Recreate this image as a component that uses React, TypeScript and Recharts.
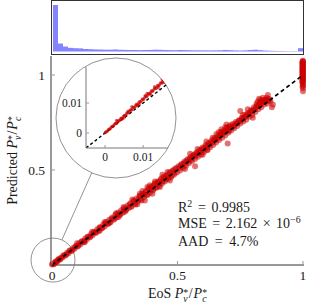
import {
  BarChart,
  Bar,
  ScatterChart,
  Scatter,
  XAxis,
  YAxis,
  ReferenceLine,
  ReferenceDot,
} from "recharts";

// histogram of EoS Pv*/Pc* (50 bins of 0.02)
const histCounts = [
  1400, 240, 150, 110, 100, 95, 75, 70, 62, 60, 55, 55, 62, 52, 48, 45, 45, 42, 45, 48, 55, 52, 45, 42, 40,
  45, 42, 38, 36, 35, 35, 33, 35, 38, 45, 40, 33, 30, 35, 45, 55, 40, 28, 22, 18, 15, 12, 10, 12, 100,
];

// [EoS, predicted]
const mainPoints: [number, number][] = [
  [0, 0.002], [0.006, 0.004], [0.012, 0.014], [0.018, 0.016], [0.024, 0.027], [0.03, 0.028], [0.036, 0.04],
  [0.042, 0.039], [0.048, 0.052], [0.054, 0.05], [0.06, 0.064], [0.066, 0.062], [0.072, 0.077], [0.078, 0.074],
  [0.084, 0.089], [0.09, 0.086], [0.096, 0.1], [0.102, 0.098], [0.108, 0.114], [0.114, 0.109], [0.12, 0.126],
  [0.126, 0.121], [0.132, 0.139], [0.138, 0.133], [0.144, 0.15], [0.15, 0.145], [0.156, 0.163], [0.162, 0.156],
  [0.168, 0.175], [0.174, 0.168], [0.18, 0.188], [0.186, 0.18], [0.192, 0.2], [0.198, 0.192], [0.204, 0.213],
  [0.21, 0.203], [0.216, 0.226], [0.222, 0.214], [0.228, 0.238], [0.234, 0.226], [0.24, 0.25], [0.246, 0.238],
  [0.252, 0.263], [0.258, 0.25], [0.264, 0.276], [0.27, 0.262], [0.276, 0.288], [0.282, 0.275], [0.288, 0.3],
  [0.294, 0.287], [0.3, 0.312],
  [0.003, 0.006], [0.009, 0.007], [0.015, 0.019], [0.021, 0.018], [0.027, 0.031], [0.033, 0.03], [0.045, 0.049],
  [0.057, 0.055], [0.069, 0.074], [0.081, 0.078], [0.093, 0.098], [0.105, 0.101], [0.117, 0.123], [0.129, 0.125],
  [0.141, 0.147], [0.153, 0.149], [0.165, 0.17], [0.177, 0.173], [0.189, 0.196], [0.201, 0.196], [0.213, 0.219],
  [0.225, 0.22], [0.237, 0.244], [0.249, 0.244], [0.261, 0.268], [0.273, 0.269], [0.285, 0.292], [0.297, 0.293],
  [0.1, 0.115], [0.13, 0.12], [0.16, 0.175], [0.19, 0.18], [0.21, 0.226], [0.23, 0.222], [0.255, 0.272],
  [0.265, 0.252], [0.285, 0.305], [0.29, 0.28],
  [0.306, 0.3], [0.312, 0.325], [0.318, 0.31], [0.324, 0.336], [0.33, 0.322], [0.336, 0.35], [0.342, 0.335],
  [0.348, 0.362], [0.354, 0.345], [0.36, 0.375], [0.366, 0.356], [0.372, 0.385], [0.378, 0.368], [0.384, 0.4],
  [0.39, 0.38], [0.396, 0.41], [0.402, 0.392], [0.408, 0.425], [0.414, 0.405], [0.42, 0.436], [0.426, 0.416],
  [0.432, 0.448], [0.438, 0.428], [0.444, 0.46], [0.45, 0.44], [0.456, 0.47], [0.462, 0.452], [0.468, 0.484],
  [0.474, 0.462], [0.48, 0.495], [0.486, 0.475], [0.492, 0.506], [0.498, 0.487],
  [0.309, 0.318], [0.315, 0.305], [0.327, 0.34], [0.333, 0.318], [0.345, 0.345], [0.351, 0.365], [0.357, 0.34],
  [0.363, 0.372], [0.369, 0.37], [0.375, 0.39], [0.381, 0.37], [0.387, 0.405], [0.393, 0.395], [0.399, 0.415],
  [0.405, 0.4], [0.411, 0.43], [0.417, 0.41], [0.423, 0.44], [0.429, 0.43], [0.435, 0.455], [0.441, 0.44],
  [0.447, 0.465], [0.453, 0.45], [0.459, 0.475], [0.465, 0.46], [0.471, 0.49], [0.477, 0.47], [0.483, 0.5],
  [0.489, 0.485], [0.495, 0.51],
  [0.35, 0.375], [0.37, 0.34], [0.38, 0.41], [0.39, 0.42], [0.4, 0.375], [0.41, 0.44], [0.36, 0.39],
  [0.43, 0.41], [0.44, 0.475], [0.46, 0.49], [0.47, 0.445], [0.32, 0.345], [0.34, 0.32],
  [0.504, 0.52], [0.51, 0.498], [0.516, 0.532], [0.522, 0.51], [0.528, 0.545], [0.534, 0.522], [0.54, 0.556],
  [0.546, 0.535], [0.552, 0.568], [0.558, 0.547], [0.564, 0.58], [0.57, 0.558], [0.576, 0.592], [0.582, 0.57],
  [0.588, 0.605], [0.594, 0.582], [0.6, 0.618], [0.606, 0.595], [0.612, 0.63], [0.618, 0.606], [0.624, 0.642],
  [0.63, 0.62], [0.636, 0.655], [0.642, 0.632], [0.648, 0.668], [0.654, 0.645], [0.66, 0.68], [0.666, 0.658],
  [0.672, 0.695], [0.678, 0.67], [0.684, 0.708], [0.69, 0.682], [0.696, 0.72], [0.702, 0.696], [0.708, 0.73],
  [0.714, 0.708], [0.72, 0.742], [0.726, 0.72], [0.732, 0.752], [0.738, 0.732], [0.744, 0.762], [0.75, 0.745],
  [0.507, 0.51], [0.513, 0.525], [0.519, 0.52], [0.525, 0.535], [0.531, 0.535], [0.537, 0.55], [0.543, 0.545],
  [0.549, 0.56], [0.555, 0.555], [0.561, 0.575], [0.567, 0.57], [0.573, 0.585], [0.579, 0.58], [0.585, 0.598],
  [0.591, 0.593], [0.597, 0.61], [0.603, 0.605], [0.609, 0.62], [0.615, 0.618], [0.621, 0.635], [0.627, 0.63],
  [0.633, 0.645], [0.639, 0.643], [0.645, 0.66], [0.651, 0.655], [0.657, 0.67], [0.663, 0.668], [0.669, 0.68],
  [0.675, 0.7], [0.681, 0.695], [0.687, 0.7], [0.693, 0.705], [0.699, 0.725], [0.705, 0.705], [0.711, 0.735],
  [0.717, 0.725], [0.723, 0.73], [0.729, 0.74], [0.735, 0.745], [0.741, 0.75], [0.747, 0.76],
  [0.665, 0.7], [0.675, 0.715], [0.68, 0.69], [0.69, 0.725], [0.7, 0.71], [0.695, 0.74], [0.705, 0.72],
  [0.67, 0.685], [0.64, 0.67], [0.7, 0.64], [0.62, 0.605], [0.57, 0.52], [0.58, 0.61], [0.55, 0.585],
  [0.6, 0.58], [0.53, 0.505], [0.615, 0.65], [0.655, 0.69],
  [0.756, 0.775], [0.762, 0.755], [0.768, 0.79], [0.774, 0.765], [0.78, 0.8], [0.786, 0.78], [0.792, 0.815],
  [0.798, 0.79], [0.804, 0.83], [0.81, 0.805], [0.816, 0.84], [0.822, 0.82], [0.828, 0.855], [0.834, 0.83],
  [0.84, 0.865], [0.846, 0.845], [0.852, 0.87], [0.858, 0.85], [0.864, 0.875], [0.87, 0.86],
  [0.753, 0.76], [0.759, 0.77], [0.765, 0.775], [0.771, 0.78], [0.777, 0.79], [0.783, 0.795], [0.789, 0.8],
  [0.795, 0.81], [0.801, 0.815], [0.807, 0.82], [0.813, 0.83], [0.819, 0.835], [0.825, 0.845], [0.831, 0.85],
  [0.837, 0.855], [0.843, 0.86], [0.849, 0.865], [0.855, 0.87], [0.861, 0.865], [0.867, 0.87],
  [0.82, 0.86], [0.83, 0.87], [0.825, 0.875], [0.835, 0.86], [0.84, 0.88], [0.845, 0.87], [0.815, 0.85],
  [0.83, 0.845], [0.85, 0.86], [0.855, 0.88], [0.75, 0.81], [0.76, 0.79], [0.876, 0.83], [0.88, 0.845],
  [0.8, 0.775], [0.78, 0.82], [0.86, 0.895],
  [1, 1.075], [0.998, 1.07], [1, 1.065], [0.997, 1.06], [1, 1.055], [0.998, 1.05], [1, 1.045], [0.997, 1.04],
  [1, 1.035], [0.998, 1.03], [1, 1.025], [0.997, 1.02], [1, 1.015], [0.998, 1.01], [1, 1.005], [0.997, 1.0],
  [1, 0.995], [0.998, 0.99], [1, 0.985], [0.997, 0.98], [1, 0.975], [0.998, 0.97], [1, 0.965], [0.997, 0.96],
  [1, 0.95], [0.998, 0.94], [1, 0.93], [1, 0.915],
  [0.999, 1.072], [0.999, 1.062], [0.999, 1.052], [0.999, 1.042], [0.999, 1.032], [0.999, 1.022],
  [0.999, 1.012], [0.999, 1.002], [0.999, 0.992], [0.999, 0.982], [0.999, 0.972], [0.999, 0.962], [1, 0.945],
];

// zoomed region near the origin
const insetPoints: [number, number][] = [
  [0, 0.0001], [0.0004, 0.0004], [0.0008, 0.001], [0.0012, 0.0013], [0.0016, 0.0019], [0.002, 0.0022],
  [0.0024, 0.0028], [0.0028, 0.0031], [0.0032, 0.0037], [0.0036, 0.004], [0.004, 0.0046], [0.0044, 0.0049],
  [0.0048, 0.0055], [0.0052, 0.0058], [0.0056, 0.0064], [0.006, 0.0067], [0.0064, 0.0073], [0.0068, 0.0076],
  [0.0072, 0.0082], [0.0076, 0.0085], [0.008, 0.0091], [0.0084, 0.0094], [0.0088, 0.01], [0.0092, 0.0103],
  [0.0096, 0.0109], [0.01, 0.0112], [0.0104, 0.0118], [0.0108, 0.0121], [0.0112, 0.0127], [0.0116, 0.013],
  [0.012, 0.0136], [0.0124, 0.0139], [0.0128, 0.0145], [0.0132, 0.0148], [0.0136, 0.0154], [0.014, 0.0157],
  [0.0144, 0.0163], [0.0148, 0.0166], [0.0152, 0.0172], [0.0156, 0.0175], [0.016, 0.0181], [0.0164, 0.0184],
  [0.0168, 0.019],
  [0.0002, 0.0004], [0.0006, 0.0006], [0.001, 0.0013], [0.0014, 0.0014], [0.0018, 0.0022], [0.0022, 0.0023],
  [0.0026, 0.0031], [0.003, 0.0032], [0.0034, 0.0041], [0.0038, 0.0041], [0.0042, 0.005], [0.0046, 0.005],
  [0.005, 0.0059], [0.0054, 0.0059], [0.0058, 0.0068], [0.0062, 0.0068], [0.0066, 0.0077], [0.007, 0.0077],
  [0.0074, 0.0086], [0.0078, 0.0086], [0.0082, 0.0096], [0.0086, 0.0095], [0.009, 0.0105], [0.0094, 0.0104],
  [0.0098, 0.0114], [0.0102, 0.0113], [0.0106, 0.0123], [0.011, 0.0122], [0.0114, 0.0132], [0.0118, 0.0131],
  [0.0122, 0.0141], [0.0126, 0.014], [0.013, 0.015], [0.0134, 0.0149], [0.0138, 0.0159], [0.0142, 0.0158],
  [0.0146, 0.0168], [0.015, 0.0167], [0.0154, 0.0177], [0.0158, 0.0176], [0.0162, 0.0186], [0.0166, 0.0185],
  [0.003, 0.0042], [0.005, 0.005], [0.007, 0.0088], [0.009, 0.0095], [0.011, 0.0132], [0.012, 0.0128],
  [0.013, 0.0155], [0.014, 0.015], [0.015, 0.0178], [0.0155, 0.0168], [0.0105, 0.0125], [0.0085, 0.009],
  [0.006, 0.0073], [0.0045, 0.0047],
];

const mainXTicks = [0, 0.5, 1];
const mainYTicks = [0.5, 1];
const insetTicks = [0, 0.01];

const SERIF = '"Liberation Serif", "Times New Roman", serif';
const INK = "#1a1a1a";
const AXIS = "#333";
const TICK = "#999";
const RED = "#cc0000";
const HIST = "#8484ff";
const RING = "#777";

const histData = histCounts.map((count, i) => ({ bin: i, count }));
const mainData = mainPoints.map(([x, y]) => ({ x, y }));
const insetData = insetPoints.map(([x, y]) => ({ x, y }));

const serifStyle = { fontFamily: SERIF };

const BottomTick = ({ x, y, payload }: any) => (
  <g>
    <line x1={x} x2={x} y1={y} y2={y - 4} stroke={TICK} />
    <text x={x} y={y + 15} textAnchor="middle" fontSize={13.5} fill={INK} style={serifStyle}>
      {String(payload.value)}
    </text>
  </g>
);
const TopTick = ({ x, y }: any) => <line x1={x} x2={x} y1={y} y2={y + 4} stroke={TICK} />;
const LeftTick = ({ x, y, payload }: any) => (
  <g>
    <line x1={x} x2={x + 4} y1={y} y2={y} stroke={TICK} />
    <text x={x - 6} y={y + 4.5} textAnchor="end" fontSize={13.5} fill={INK} style={serifStyle}>
      {String(payload.value)}
    </text>
  </g>
);
const RightTick = ({ x, y }: any) => <line x1={x} x2={x - 4} y1={y} y2={y} stroke={TICK} />;

const InsetXTick = ({ x, y, payload }: any) => (
  <g>
    <line x1={x} x2={x} y1={y} y2={y - 3} stroke={TICK} />
    <text x={x} y={y + 13} textAnchor="middle" fontSize={11.5} fill={INK} style={serifStyle}>
      {String(payload.value)}
    </text>
  </g>
);
const InsetYTick = ({ x, y, payload }: any) => (
  <g>
    <line x1={x} x2={x + 3} y1={y} y2={y} stroke={TICK} />
    <text x={x - 4} y={y + 4} textAnchor="end" fontSize={11.5} fill={INK} style={serifStyle}>
      {String(payload.value)}
    </text>
  </g>
);

// P*_v / P*_c
function Ratio({ fs }: { fs: number }) {
  const s = fs * 0.7;
  return (
    <>
      <tspan fontStyle="italic">P</tspan>
      <tspan fontSize={s} dy={-fs * 0.15}>*</tspan>
      <tspan fontSize={s} fontStyle="italic" dx={-s * 0.5} dy={fs * 0.4}>v</tspan>
      <tspan dy={-fs * 0.25} dx={1}>/</tspan>
      <tspan fontStyle="italic" dx={1}>P</tspan>
      <tspan fontSize={s} dy={-fs * 0.15}>*</tspan>
      <tspan fontSize={s} fontStyle="italic" dx={-s * 0.5} dy={fs * 0.4}>c</tspan>
    </>
  );
}

const dot = (r: number, a: number) => (p: any) => (
  <circle cx={p.cx} cy={p.cy} r={r} fill={RED} fillOpacity={a} />
);

export default function App() {
  return (
    <div style={{ position: "absolute", left: 0, top: 0, width: 312, height: 308, background: "#fff" }}>
      {/* histogram */}
      <div
        style={{
          position: "absolute",
          left: 51,
          top: 0,
          width: 253,
          height: 55,
          border: `1px solid ${AXIS}`,
          boxSizing: "border-box",
        }}
      />
      <div style={{ position: "absolute", left: 53, top: 1 }}>
        <BarChart width={250} height={53} data={histData} margin={{ top: 0, right: 0, bottom: 0, left: 0 }} barCategoryGap={0}>
          <XAxis dataKey="bin" hide />
          <YAxis hide domain={[-75, 1520]} allowDataOverflow />
          <Bar dataKey="count" fill={HIST} isAnimationActive={false} />
        </BarChart>
      </div>

      {/* main parity plot */}
      <div style={{ position: "absolute", left: 0, top: 0 }}>
        <ScatterChart width={312} height={308} margin={{ top: 56, right: 8, bottom: 0, left: 0 }}>
          <XAxis
            type="number"
            dataKey="x"
            domain={[-0.004, 1.004]}
            ticks={mainXTicks}
            interval={0}
            height={43}
            tickSize={0}
            tickMargin={0}
            tickLine={false}
            tick={BottomTick}
            axisLine={{ stroke: AXIS }}
          />
          <XAxis
            xAxisId="top"
            orientation="top"
            type="number"
            domain={[-0.004, 1.004]}
            ticks={mainXTicks}
            interval={0}
            height={0}
            tickSize={0}
            tickMargin={0}
            tickLine={false}
            tick={TopTick}
            axisLine={{ stroke: AXIS }}
          />
          <YAxis
            type="number"
            dataKey="y"
            domain={[0, 1.1]}
            ticks={mainYTicks}
            interval={0}
            width={51}
            tickSize={0}
            tickMargin={0}
            tickLine={false}
            tick={LeftTick}
            axisLine={{ stroke: AXIS }}
          />
          <YAxis
            yAxisId="right"
            orientation="right"
            type="number"
            domain={[0, 1.1]}
            ticks={mainYTicks}
            interval={0}
            width={0}
            tickSize={0}
            tickMargin={0}
            tickLine={false}
            tick={RightTick}
            axisLine={{ stroke: AXIS }}
          />
          <ReferenceDot x={0.004} y={0.026} r={22} fill="none" stroke={RING} strokeWidth={0.8} />
          <ReferenceDot x={0.255} y={0.7737} r={60} fill="none" stroke={RING} strokeWidth={0.8} />
          <ReferenceLine
            segment={[{ x: 0.0394, y: 0.132 }, { x: 0.158, y: 0.4847 }]}
            stroke={RING}
            strokeWidth={0.8}
          />
          <Scatter data={mainData} shape={dot(3, 0.55)} isAnimationActive={false} />
          <ReferenceLine
            segment={[{ x: 0, y: 0 }, { x: 1, y: 1 }]}
            stroke="#000"
            strokeWidth={1.7}
            strokeDasharray="4 3"
            zIndex={1000}
          />
          <g fill={INK} style={{ whiteSpace: "pre", fontFamily: SERIF }}>
            <text x={177.5} y={298} textAnchor="middle" fontSize={14}>
              EoS <Ratio fs={14} />
            </text>
            <text transform="translate(17,160.5) rotate(-90)" textAnchor="middle" fontSize={14}>
              Predicted <Ratio fs={14} />
            </text>
            <text x={178} y={212} fontSize={14}>
              R<tspan fontSize={9.8} dy={-5}>2</tspan>
              <tspan dy={5} dx={2.2}> = </tspan>
              <tspan dx={2.2}>0.9985</tspan>
            </text>
            <text x={178} y={228} fontSize={14}>
              MSE<tspan dx={2}> = </tspan>
              <tspan dx={2}>2.162</tspan>
              <tspan dx={2}> × </tspan>
              <tspan dx={2}>10</tspan>
              <tspan fontSize={9.8} dy={-5.5}>−6</tspan>
            </text>
            <text x={178} y={246} fontSize={14}>
              AAD<tspan dx={3}> = </tspan>
              <tspan dx={3}>4.7%</tspan>
            </text>
          </g>
        </ScatterChart>
      </div>

      {/* inset, clipped to the magnifier circle */}
      <div
        style={{
          position: "absolute",
          left: 56,
          top: 58,
          width: 120,
          height: 120,
          clipPath: "circle(60px at 60px 60px)",
        }}
      >
        <ScatterChart width={120} height={120} margin={{ top: 9, right: 7, bottom: 0, left: 0 }}>
          <XAxis
            type="number"
            dataKey="x"
            domain={[-0.005, 0.0168]}
            ticks={insetTicks}
            interval={0}
            height={30}
            tickSize={0}
            tickMargin={0}
            tickLine={false}
            tick={InsetXTick}
            axisLine={{ stroke: RING }}
            allowDataOverflow
          />
          <YAxis
            type="number"
            dataKey="y"
            domain={[-0.005, 0.022]}
            ticks={insetTicks}
            interval={0}
            width={30}
            tickSize={0}
            tickMargin={0}
            tickLine={false}
            tick={InsetYTick}
            axisLine={{ stroke: RING }}
            allowDataOverflow
          />
          <ReferenceLine
            segment={[{ x: -0.005, y: -0.005 }, { x: 0.0168, y: 0.0168 }]}
            stroke="#000"
            strokeWidth={1.4}
            strokeDasharray="3 2.5"
            ifOverflow="hidden"
          />
          <Scatter data={insetData} shape={dot(1.6, 0.6)} isAnimationActive={false} />
        </ScatterChart>
      </div>
    </div>
  );
}
